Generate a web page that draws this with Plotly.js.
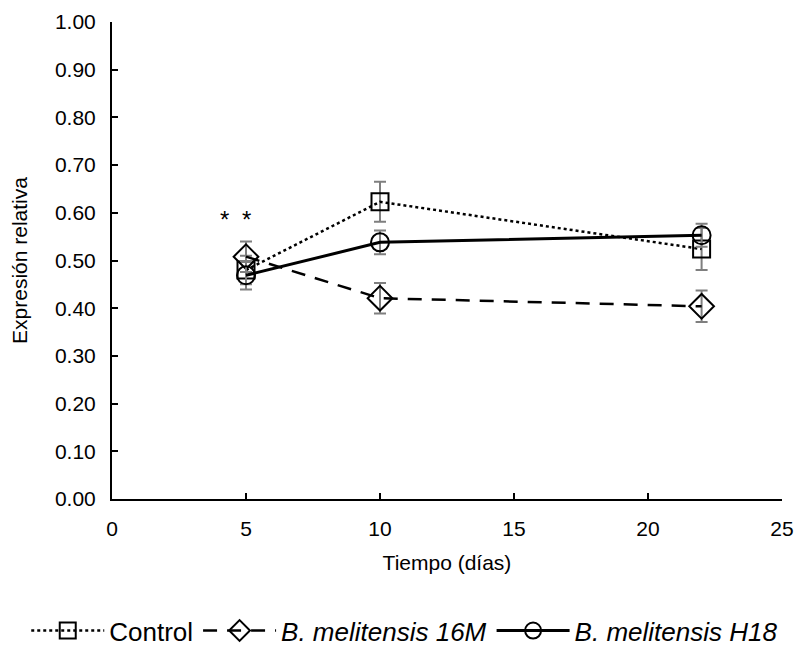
<!DOCTYPE html>
<html>
<head>
<meta charset="utf-8">
<script src="https://cdn.plot.ly/plotly-3.0.1.min.js"></script>
<style>html,body{margin:0;padding:0;background:#fff;}#chart{width:795px;height:649px;}</style>
</head>
<body>
<div id="chart"></div>
<script>
const days = [5, 10, 22];
const controlVals = [0.48, 0.623, 0.524];
const controlErr = [0.03, 0.042, 0.044];
const m16Vals = [0.508, 0.421, 0.404];
const m16Err = [0.032, 0.032, 0.033];
const h18Vals = [0.469, 0.538, 0.553];
const h18Err = [0.03, 0.025, 0.024];
const starX = [4.2, 5];
const starY = [0.585, 0.585];
const seriesNames = ['Control', '<i>B. melitensis 16M</i>', '<i>B. melitensis H18</i>'];

const errStyle = (arr) => ({type: 'data', array: arr, visible: true, color: '#7f7f7f', thickness: 2, width: 6});
const font = {family: 'Liberation Sans, Arial, sans-serif', size: 21, color: '#000'};
const legendFont = {family: 'Liberation Sans, Arial, sans-serif', size: 26, color: '#000'};

const traces = [
  {x: days, y: controlVals, name: seriesNames[0], type: 'scatter', mode: 'lines+markers',
   line: {color: '#000', width: 2.5, dash: 'dot'},
   marker: {symbol: 'square-open', size: 17, color: '#000', line: {width: 2}},
   error_y: errStyle(controlErr)},
  {x: days, y: m16Vals, name: seriesNames[1], type: 'scatter', mode: 'lines+markers',
   line: {color: '#000', width: 2.5, dash: '14px,10px'},
   marker: {symbol: 'diamond-open', size: 19, color: '#000', line: {width: 2}},
   error_y: errStyle(m16Err)},
  {x: days, y: h18Vals, name: seriesNames[2], type: 'scatter', mode: 'lines+markers',
   line: {color: '#000', width: 3},
   marker: {symbol: 'circle-open', size: 18, color: '#000', line: {width: 2}},
   error_y: errStyle(h18Err)}
];

const annotations = starX.map((x, i) => ({x: x, y: starY[i], text: '*', showarrow: false,
  font: {family: font.family, size: 24, color: '#000'}, xanchor: 'center', yanchor: 'middle'}));

const layout = {
  width: 795, height: 649,
  margin: {l: 112, r: 13, t: 22, b: 150, autoexpand: false},
  paper_bgcolor: '#fff', plot_bgcolor: '#fff',
  font: font,
  showlegend: true,
  legend: {orientation: 'h', xref: 'paper', yref: 'paper', x: -0.128, xanchor: 'left', y: -0.276, yanchor: 'middle',
           font: legendFont, itemwidth: 73, traceorder: 'normal', tracegroupgap: 0},
  xaxis: {range: [0, 25], dtick: 5, tick0: 0, showgrid: false, zeroline: false, automargin: false,
          showline: true, linecolor: '#000', linewidth: 2,
          ticks: 'inside', ticklen: 6, tickwidth: 2, tickcolor: '#000',
          ticklabelstandoff: 10,
          title: {text: 'Tiempo (días)', font: font, standoff: 16}, tickfont: font},
  yaxis: {range: [0, 1], dtick: 0.1, tick0: 0, tickformat: '.2f', showgrid: false, zeroline: false, automargin: false,
          showline: true, linecolor: '#000', linewidth: 2,
          ticks: 'inside', ticklen: 6, tickwidth: 2, tickcolor: '#000',
          ticklabelstandoff: 10,
          title: {text: 'Expresión relativa', font: font, standoff: 22}, tickfont: font},
  annotations: annotations
};

Plotly.newPlot('chart', traces, layout, {displayModeBar: false, staticPlot: true});
</script>
</body>
</html>
